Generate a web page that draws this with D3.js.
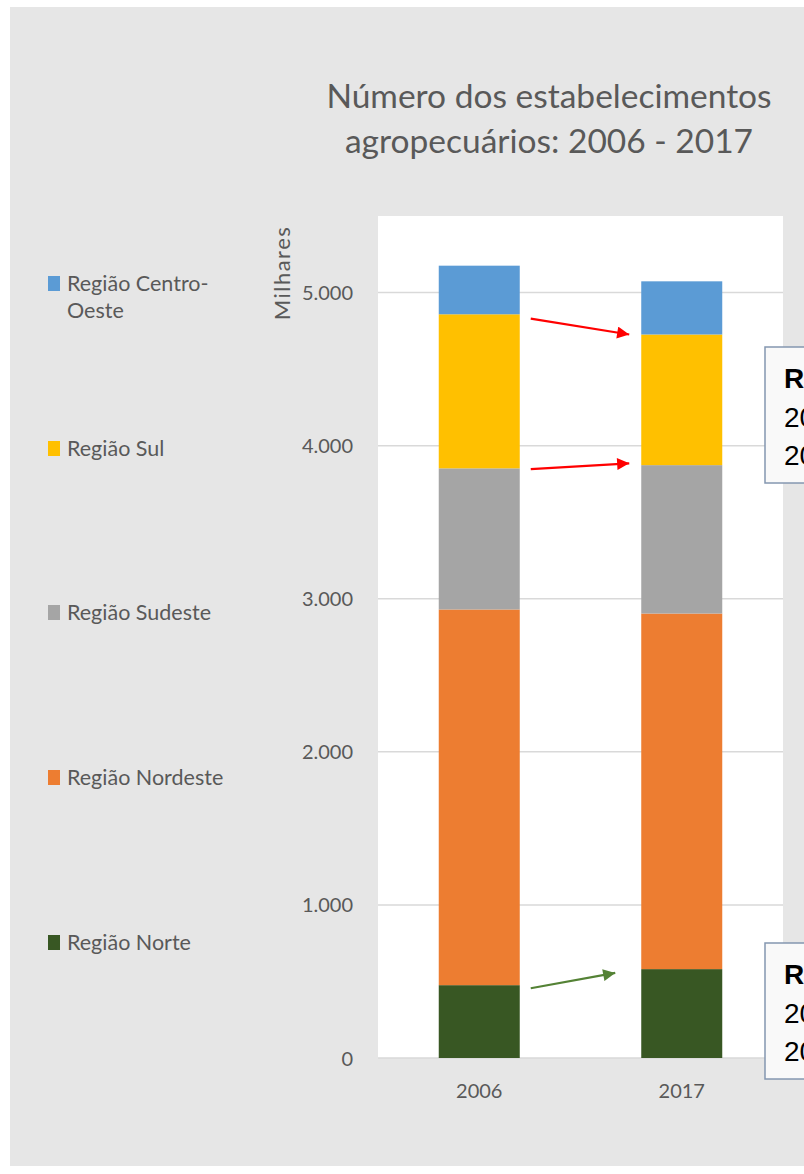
<!DOCTYPE html>
<html>
<head>
<meta charset="utf-8">
<script src="https://cdn.jsdelivr.net/npm/d3@7"></script>
<style>
  html, body { margin: 0; padding: 0; background: #fff; overflow: hidden; }
  svg { display: block; }
</style>
</head>
<body>
<div id="chart"></div>
<script>
// dados (milhares de estabelecimentos)
const anos = ['2006', '2017']
const regioes = ['Região Norte', 'Região Nordeste', 'Região Sudeste', 'Região Sul', 'Região Centro-Oeste']
const norte = [475.8, 580.6]
const nordeste = [2454.0, 2322.7]
const sudeste = [922.0, 969.4]
const sul = [1006.2, 853.3]
const centroOeste = [317.5, 347.3]
const cores = ['#385723', '#ed7d31', '#a5a5a5', '#ffc000', '#5b9bd5']
const yTicks = [0, 1000, 2000, 3000, 4000, 5000]

// caixas de destaque (cortadas na borda direita)
const caixaSul = ['Região Sul', '2006: 1.006 mil', '2017: 853 mil']
const caixaNorte = ['Região Norte', '2006: 476 mil', '2017: 581 mil']

const width = 804
const height = 1174
const plot = { left: 378, right: 783, top: 216, bottom: 1058 }
const textColor = '#595959'
const font = 'Lato, Carlito, "Open Sans", sans-serif'

const series = [norte, nordeste, sudeste, sul, centroOeste]
const rows = anos.map((ano, i) => {
  const row = { ano }
  regioes.forEach((r, k) => { row[r] = series[k][i] })
  return row
})

const stacked = d3.stack().keys(regioes)(rows)

const svg = d3.select('#chart').append('svg')
  .attr('width', width)
  .attr('height', height)

// fundo
svg.append('rect')
  .attr('x', 10).attr('y', 7)
  .attr('width', width - 10).attr('height', 1159)
  .attr('fill', '#e6e6e6')

svg.append('rect')
  .attr('x', plot.left).attr('y', plot.top)
  .attr('width', plot.right - plot.left).attr('height', plot.bottom - plot.top)
  .attr('fill', '#fff')

const x = d3.scaleBand().domain(anos).range([plot.left, plot.right]).paddingInner(0.6).paddingOuter(0.3)
const y = d3.scaleLinear().domain([0, 5500]).range([plot.bottom, plot.top])

// grade
svg.append('g')
  .selectAll('line')
  .data(yTicks)
  .join('line')
  .attr('x1', plot.left).attr('x2', plot.right)
  .attr('y1', d => y(d)).attr('y2', d => y(d))
  .attr('stroke', '#d9d9d9')
  .attr('stroke-width', 1.5)

// eixo y
const yAxis = svg.append('g')
  .attr('transform', `translate(${plot.left - 22},0)`)
  .call(d3.axisLeft(y).tickValues(yTicks).tickSize(0).tickFormat(d => d3.format(',')(d).replace(/,/g, '.')))
yAxis.select('.domain').remove()
yAxis.selectAll('text')
  .attr('fill', textColor)
  .style('font-family', font)
  .style('font-size', '20px')
  .attr('dy', '0.35em')

svg.append('text')
  .attr('transform', `translate(290,${273}) rotate(-90)`)
  .attr('text-anchor', 'middle')
  .attr('fill', textColor)
  .style('font-family', font)
  .style('font-size', '22px')
  .style('letter-spacing', '1.5px')
  .text('Milhares')

// eixo x
const xAxis = svg.append('g')
  .attr('transform', `translate(0,${plot.bottom + 23})`)
  .call(d3.axisBottom(x).tickSize(0))
xAxis.select('.domain').remove()
xAxis.selectAll('text')
  .attr('fill', textColor)
  .style('font-family', font)
  .style('font-size', '20px')
  .attr('dy', '0.71em')

// barras empilhadas
svg.append('g')
  .selectAll('g')
  .data(stacked)
  .join('g')
  .attr('fill', (d, i) => cores[i])
  .selectAll('rect')
  .data(d => d)
  .join('rect')
  .attr('x', d => x(d.data.ano))
  .attr('width', x.bandwidth())
  .attr('y', d => y(d[1]))
  .attr('height', d => y(d[0]) - y(d[1]))

// setas entre os anos
const defs = svg.append('defs')
const marker = (id, color) => {
  defs.append('marker')
    .attr('id', id)
    .attr('viewBox', '0 0 10 10')
    .attr('refX', 10).attr('refY', 5)
    .attr('markerWidth', 6).attr('markerHeight', 5.5)
    .attr('markerUnits', 'strokeWidth')
    .attr('orient', 'auto')
    .append('path')
    .attr('d', 'M0,0L10,5L0,10Z')
    .attr('fill', color)
}
marker('redArrow', '#ff0000')
marker('greenArrow', '#548235')

const topo = (k, i) => stacked[k][i][1]
const x0 = x('2006') + x.bandwidth() + 11
const x1 = x('2017') - 12
const setas = [
  { from: topo(3, 0) - 28, to: topo(3, 1), color: '#ff0000', id: 'redArrow', x2: x1 },
  { from: topo(2, 0) - 5, to: topo(2, 1) + 12, color: '#ff0000', id: 'redArrow', x2: x1 },
  { from: topo(0, 0) - 20, to: topo(0, 1) - 25, color: '#548235', id: 'greenArrow', x2: x1 - 14 },
]
svg.append('g')
  .selectAll('line')
  .data(setas)
  .join('line')
  .attr('x1', x0).attr('y1', d => y(d.from))
  .attr('x2', d => d.x2).attr('y2', d => y(d.to))
  .attr('stroke', d => d.color)
  .attr('stroke-width', 2.2)
  .attr('marker-end', d => `url(#${d.id})`)

// legenda
const legenda = [
  { label: ['Região Centro-', 'Oeste'], cor: cores[4], y: 291 },
  { label: ['Região Sul'], cor: cores[3], y: 456 },
  { label: ['Região Sudeste'], cor: cores[2], y: 620 },
  { label: ['Região Nordeste'], cor: cores[1], y: 785 },
  { label: ['Região Norte'], cor: cores[0], y: 950 },
]
const leg = svg.append('g')
  .selectAll('g')
  .data(legenda)
  .join('g')
  .attr('transform', d => `translate(48,${d.y})`)
leg.append('rect')
  .attr('x', 0).attr('y', -15)
  .attr('width', 12).attr('height', 15)
  .attr('fill', d => d.cor)
leg.append('text')
  .attr('x', 19)
  .attr('fill', textColor)
  .style('font-family', font)
  .style('font-size', '21.5px')
  .selectAll('tspan')
  .data(d => d.label)
  .join('tspan')
  .attr('x', 19)
  .attr('dy', (d, i) => (i === 0 ? 0 : 27))
  .text(d => d)

// título
svg.append('text')
  .attr('text-anchor', 'middle')
  .attr('fill', textColor)
  .style('font-family', font)
  .style('font-size', '33.5px')
  .selectAll('tspan')
  .data(['Número dos estabelecimentos', 'agropecuários: 2006 - 2017'])
  .join('tspan')
  .attr('x', 549)
  .attr('y', (d, i) => 108 + i * 45)
  .text(d => d)

// caixas
const caixa = (linhas, top) => {
  const g = svg.append('g').attr('transform', `translate(765,${top})`)
  g.append('rect')
    .attr('width', 260).attr('height', 136)
    .attr('fill', '#f9f9f9')
    .attr('stroke', '#8497b0')
    .attr('stroke-width', 1.5)
  g.append('text')
    .style('font-family', '"Liberation Sans", Arial, sans-serif')
    .style('font-size', '28px')
    .attr('fill', '#000')
    .selectAll('tspan')
    .data(linhas)
    .join('tspan')
    .attr('x', 19)
    .attr('y', (d, i) => 41 + i * 38.5)
    .style('font-weight', (d, i) => (i === 0 ? 'bold' : 'normal'))
    .text(d => d)
}
caixa(caixaSul, 347)
caixa(caixaNorte, 943)
</script>
</body>
</html>
